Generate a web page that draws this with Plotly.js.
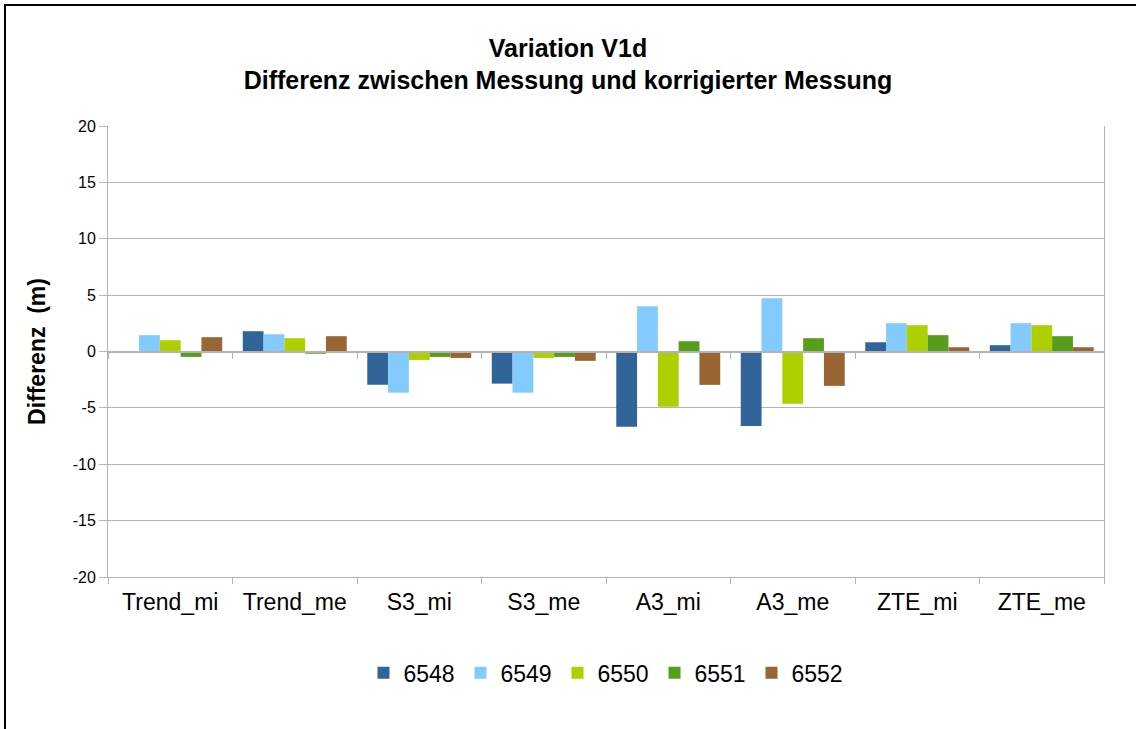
<!DOCTYPE html>
<html>
<head>
<meta charset="utf-8">
<script src="https://cdn.plot.ly/plotly-3.0.1.min.js"></script>
<style>
html,body{margin:0;padding:0;background:#fff;}
#wrap{position:relative;width:1136px;height:729px;overflow:hidden;}
#chart{position:absolute;left:0;top:0;width:1136px;height:729px;}
#frame{position:absolute;left:4px;top:4px;width:1140px;height:740px;border-left:2px solid #000;border-top:2px solid #000;pointer-events:none;}
</style>
</head>
<body>
<div id="wrap"><div id="chart"></div><div id="frame"></div></div>
<script>
const categories = ["Trend_mi","Trend_me","S3_mi","S3_me","A3_mi","A3_me","ZTE_mi","ZTE_me"];
const seriesNames = ["6548","6549","6550","6551","6552"];
const s6548 = [-0.1, 1.8, -2.95, -2.85, -6.68, -6.6, 0.82, 0.56];
const s6549 = [1.45, 1.53, -3.65, -3.65, 4.02, 4.73, 2.51, 2.51];
const s6550 = [1.0, 1.18, -0.75, -0.57, -4.9, -4.64, 2.33, 2.33];
const s6551 = [-0.48, -0.2, -0.48, -0.48, 0.91, 1.18, 1.45, 1.36];
const s6552 = [1.27, 1.36, -0.57, -0.83, -2.96, -3.05, 0.38, 0.38];
const yTicks = [-20,-15,-10,-5,0,5,10,15,20];
const colors = ["#31659a","#83caff","#aecf00","#579d1c","#996633"];
const values = [s6548,s6549,s6550,s6551,s6552];

const traces = values.map((v,i)=>({
  type:"bar", name:seriesNames[i], x:categories, y:v,
  marker:{color:colors[i], line:{width:0}}, hoverinfo:"x+y+name"
}));
// helper trace for the axis drawn through zero
traces.push({type:"scatter", mode:"markers", x:categories, y:categories.map(()=>0),
  xaxis:"x2", yaxis:"y", marker:{opacity:0}, showlegend:false, hoverinfo:"skip"});

const axisGray = "#b3b3b3";
const layout = {
  width:1136, height:729,
  margin:{l:108, r:32, t:126, b:152},
  paper_bgcolor:"#fff", plot_bgcolor:"#fff",
  font:{family:"Liberation Sans, Arial, sans-serif", color:"#000"},
  title:{text:"<b>Variation V1d</b><br><b>Differenz zwischen Messung und korrigierter Messung</b>",
    x:0.5, xanchor:"center", y:0.922, yanchor:"top", font:{size:25, color:"#000"}},
  barmode:"group", bargap:0.165, bargroupgap:0,
  xaxis:{type:"category", categoryarray:categories, tickson:"boundaries",
    ticks:"outside", ticklen:6, tickcolor:axisGray, showline:true, linecolor:axisGray, linewidth:1,
    mirror:false, showgrid:false, tickfont:{size:23}, ticklabelstandoff:4, range:[-0.5,7.5], fixedrange:true},
  xaxis2:{type:"category", categoryarray:categories, overlaying:"x", anchor:"free", position:0.5,
    side:"bottom", tickson:"boundaries", ticks:"outside", ticklen:6, tickcolor:axisGray,
    showline:true, linecolor:axisGray, linewidth:2, showgrid:false, showticklabels:false,
    range:[-0.5,7.5], fixedrange:true},
  yaxis:{range:[-20,20], tickvals:yTicks, ticktext:yTicks.map(String), ticks:"outside", ticklen:8,
    tickcolor:axisGray, showline:true, linecolor:axisGray, mirror:true, gridcolor:axisGray, gridwidth:1,
    zeroline:false, tickfont:{size:16}, fixedrange:true,
    title:{text:"<b>Differenz  (m)</b>", font:{size:23}, standoff:20}},
  legend:{orientation:"h", x:0.5, xanchor:"center", y:-0.165, yanchor:"top",
    font:{size:23}, traceorder:"normal", itemwidth:30, entrywidth:52},
  showlegend:true
};
Plotly.newPlot("chart", traces, layout, {displayModeBar:false, staticPlot:true});
</script>
</body>
</html>
